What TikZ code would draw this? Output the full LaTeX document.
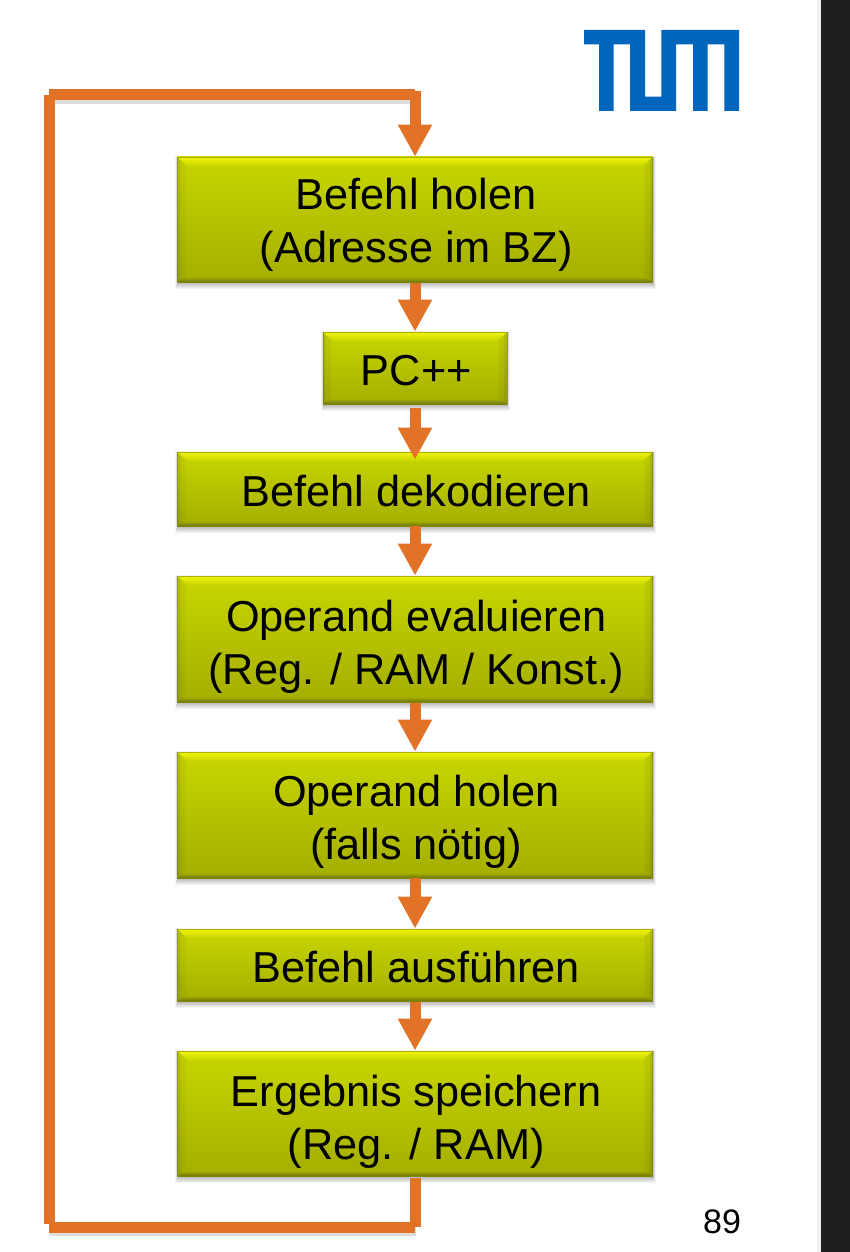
\documentclass[tikz,border=0pt]{standalone}
\usepackage{fontspec}
\setmainfont{Liberation Sans}
\usetikzlibrary{arrows.meta,calc}
\definecolor{flow}{RGB}{226,115,38}
\definecolor{tumblue}{RGB}{0,101,189}
\definecolor{bright}{RGB}{240,242,10}
\definecolor{midtop}{RGB}{200,214,0}
\definecolor{midbot}{RGB}{164,174,0}
\definecolor{darkedge}{RGB}{112,116,10}
\tikzset{
  x=1pt,y=-1pt,
  stepbox/.style={
    rectangle,inner sep=0pt,minimum width=475pt,align=center,
    font=\fontsize{43.3}{53}\selectfont,text=black,
    top color=midtop,bottom color=midbot,
    draw=black!45!midbot,draw opacity=.45,line width=.6pt,
    path picture={
      \fill[black,opacity=.04]
        (path picture bounding box.north west) -- ++(8,8) -- ($(path picture bounding box.south west)+(8,-6)$) -- (path picture bounding box.south west) -- cycle;
      \fill[black,opacity=.05]
        (path picture bounding box.north west) -- ++(3,3) -- ($(path picture bounding box.south west)+(3,-3)$) -- (path picture bounding box.south west) -- cycle;
      \fill[black,opacity=.05]
        (path picture bounding box.north east) -- ++(-8,8) -- ($(path picture bounding box.south east)+(-8,-6)$) -- (path picture bounding box.south east) -- cycle;
      \fill[black,opacity=.06]
        (path picture bounding box.north east) -- ++(-3,3) -- ($(path picture bounding box.south east)+(-3,-3)$) -- (path picture bounding box.south east) -- cycle;
      \shade[top color=bright,bottom color=midtop]
        (path picture bounding box.north west) -- ++(10,9) -- ($(path picture bounding box.north east)+(-10,9)$) -- (path picture bounding box.north east) -- cycle;
      \shade[top color=midbot,bottom color=darkedge]
        (path picture bounding box.south west) -- ++(6,-5) -- ($(path picture bounding box.south east)+(-6,-5)$) -- (path picture bounding box.south east) -- cycle;
    }},
  boxshadow/.style={fill=black,opacity=.045,draw=none},
  flowline/.style={draw=flow,line width=11pt,line cap=butt},
  flowarrow/.style={flowline,-{Triangle[width=32pt,length=32pt,fill=flow]}},
  linkshadow/.style={draw=black,opacity=.07,line width=#1},
}
\newcommand{\softshadow}[4]{%
  \fill[boxshadow] (#1-2,#2-1) rectangle (#3+3,#4+7);
  \fill[boxshadow] (#1-1,#2) rectangle (#3+2,#4+6);
  \fill[boxshadow] (#1-1,#2) rectangle (#3+2,#4+5);
  \fill[boxshadow] (#1,#2) rectangle (#3+1,#4+4);
  \fill[boxshadow] (#1,#2) rectangle (#3+1,#4+3);
  \fill[boxshadow] (#1,#2) rectangle (#3+1,#4+2);
}
\newcommand{\boxtext}[2]{\hspace*{2.5pt}\raisebox{-#1}[\height][\depth]{\begin{tabular}{@{}c@{}}#2\end{tabular}}}
\begin{document}
\begin{tikzpicture}
\useasboundingbox (0,0) rectangle (850,1252);
\fill[white] (0,0) rectangle (850,1252);
\fill[black!6] (817,0) rectangle (821,1252);
\fill[black!88] (821,0) rectangle (850,1252);

% TUM logo
\fill[tumblue] (584,30) -- (645,30) -- (645,96.7) -- (661.3,96.7) -- (661.3,30) -- (739,30)
  -- (739,111) -- (724.3,111) -- (724.3,44.3) -- (707.7,44.3) -- (707.7,111) -- (693,111)
  -- (693,44.3) -- (676,44.3) -- (676,111) -- (630,111) -- (630,44.3) -- (613.7,44.3)
  -- (613.7,111) -- (599,111) -- (599,44.3) -- (584,44.3) -- cycle;

% shadows of the boxes
\softshadow{177}{157}{653}{282}
\softshadow{323}{332}{507}{404}
\softshadow{177}{452}{653}{526}
\softshadow{177}{576}{653}{702}
\softshadow{177}{752}{653}{878}
\softshadow{177}{929}{653}{1001}
\softshadow{177}{1051}{653}{1176}

% boxes
\node[stepbox,minimum height=125pt] (fetch) at (415,219.5) {\boxtext{5.5pt}{Befehl holen\\(Adresse im BZ)}};
\node[stepbox,minimum width=184pt,minimum height=72pt] (pc) at (415,368) {\boxtext{7pt}{PC++}};
\node[stepbox,minimum height=74pt] (decode) at (415,489) {\boxtext{7pt}{Befehl dekodieren}};
\node[stepbox,minimum height=126pt] (eval) at (415,639) {\boxtext{8.5pt}{Operand evaluieren\\(Reg. / RAM / Konst.)}};
\node[stepbox,minimum height=126pt] (load) at (415,815) {\boxtext{7pt}{Operand holen\\(falls nötig)}};
\node[stepbox,minimum height=72pt] (exec) at (415,965) {\boxtext{7pt}{Befehl ausführen}};
\node[stepbox,minimum height=125pt] (store) at (415,1113.5) {\boxtext{8.5pt}{Ergebnis speichern\\(Reg. / RAM)}};

% loop corners
\coordinate (loopstart) at (415,1227);
\coordinate (bottomleft) at (49,1227);
\coordinate (leftlow) at (49,1224);
\coordinate (lefthigh) at (49,95);
\coordinate (topright) at (415,95);
\coordinate (toprightstart) at (415,91);

% loop shadow
\draw[linkshadow=14pt] ($(bottomleft)+(1,2)$) -- ($(loopstart)+(1,2)$);
\draw[linkshadow=12pt] ($(bottomleft)+(1,3)$) -- ($(loopstart)+(1,3)$);
\draw[linkshadow=14pt] ($(lefthigh)+(1,2)$) -- ($(topright)+(1,2)$);
\draw[linkshadow=12pt] ($(lefthigh)+(1,3)$) -- ($(topright)+(1,3)$);

% connectors
\draw[flowline,shorten <=2pt] (store.south) -- (loopstart);
\draw[flowline] (loopstart) -- (bottomleft);
\draw[flowline] (leftlow) -- (lefthigh);
\draw[flowline] (lefthigh) -- (topright);
\draw[flowarrow] (toprightstart) -- (fetch.north);
\draw[flowarrow,shorten <=1pt] (fetch.south) -- (pc.north);
\draw[flowarrow,shorten <=4pt,shorten >=-8pt] (pc.south) -- (decode.north);
\draw[flowarrow] (decode.south) -- (eval.north);
\draw[flowarrow,shorten <=1pt] (eval.south) -- (load.north);
\draw[flowarrow] (load.south) -- (exec.north);
\draw[flowarrow,shorten <=1pt] (exec.south) -- (store.north);

% page number
\node[font=\fontsize{34}{40}\selectfont,inner sep=0pt,text=black] (pagenum) at (722,1222) {89};
\end{tikzpicture}
\end{document}
